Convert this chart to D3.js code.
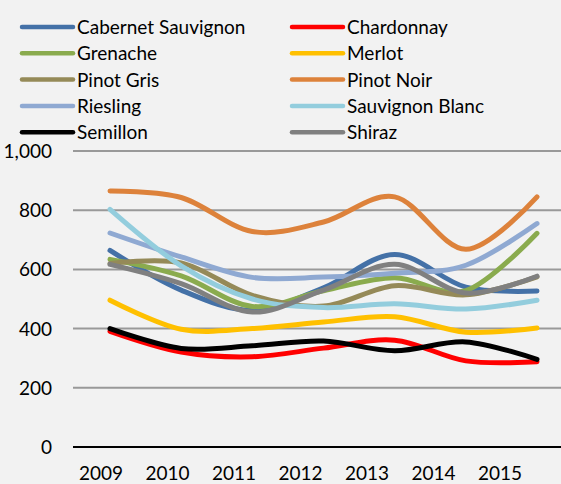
<!DOCTYPE html>
<html>
<head>
<meta charset="utf-8">
<script src="https://cdnjs.cloudflare.com/ajax/libs/d3/7.8.5/d3.min.js"></script>
<style>
  body { margin: 0; background: #f2f2f2; }
  svg { display: block; font-family: Lato, "Open Sans", sans-serif; }
</style>
</head>
<body>
<script>
//Width and height
var w = 561;
var h = 484;

//Chart data
var years = ["2009", "2010", "2011", "2012", "2013", "2014", "2015"];
var varieties = ["Cabernet Sauvignon", "Chardonnay", "Grenache", "Merlot", "Pinot Gris",
                 "Pinot Noir", "Riesling", "Sauvignon Blanc", "Semillon", "Shiraz"];
var colors = ["#4471a7", "#ff0000", "#8aab4e", "#ffc000", "#958a58",
              "#dd823b", "#8fa9d2", "#93cddd", "#000000", "#808080"];

var cabernet   = [664, 530, 462, 538, 650, 540, 527];
var chardonnay = [391, 321, 305, 334, 361, 291, 288];
var grenache   = [634, 578, 475, 528, 572, 528, 722];
var merlot     = [496, 398, 400, 422, 440, 388, 402];
var pinotGris  = [620, 622, 512, 476, 545, 514, 575];
var pinotNoir  = [865, 843, 728, 760, 845, 668, 845];
var riesling   = [723, 642, 573, 574, 587, 614, 755];
var sauvBlanc  = [803, 612, 500, 471, 484, 466, 496];
var semillon   = [400, 333, 342, 358, 325, 355, 296];
var shiraz     = [617, 552, 456, 530, 617, 520, 577];

var series = [cabernet, chardonnay, grenache, merlot, pinotGris,
              pinotNoir, riesling, sauvBlanc, semillon, shiraz];

var yTicks = [0, 200, 400, 600, 800, 1000];

//Scales
var x = d3.scalePoint().domain(years).range([110, 537]);
var xLabel = d3.scalePoint().domain(years).range([101, 500]);
var y = d3.scaleLinear().domain([0, 1000]).range([447, 151]);

var fmt = d3.format(",");

//Create SVG element
var svg = d3.select("body")
            .append("svg")
            .attr("width", w)
            .attr("height", h);

svg.append("rect").attr("width", w).attr("height", h).attr("fill", "#f2f2f2");

//Gridlines
svg.selectAll("line.grid")
   .data(yTicks)
   .enter()
   .append("line")
   .attr("class", "grid")
   .attr("x1", 73).attr("x2", w)
   .attr("y1", function(d) { return y(d); })
   .attr("y2", function(d) { return y(d); })
   .attr("stroke", function(d) { return d === 0 ? "#000" : "#999"; })
   .attr("stroke-width", 2);

//Y labels
svg.selectAll("text.ytick")
   .data(yTicks)
   .enter()
   .append("text")
   .attr("class", "ytick")
   .attr("x", 52)
   .attr("y", function(d) { return y(d) + 7; })
   .attr("text-anchor", "end")
   .attr("font-size", 19)
   .attr("fill", "#000")
   .text(function(d) { return fmt(d); });

//X labels
svg.selectAll("text.xtick")
   .data(years)
   .enter()
   .append("text")
   .attr("class", "xtick")
   .attr("x", function(d) { return xLabel(d); })
   .attr("y", 480)
   .attr("text-anchor", "middle")
   .attr("font-size", 19)
   .attr("fill", "#000")
   .text(function(d) { return d; });

//Lines
var line = d3.line()
             .x(function(d, i) { return x(years[i]); })
             .y(function(d) { return y(d); })
             .curve(d3.curveCatmullRom.alpha(0));

svg.selectAll("path.series")
   .data(series)
   .enter()
   .append("path")
   .attr("class", "series")
   .attr("d", line)
   .attr("fill", "none")
   .attr("stroke", function(d, i) { return colors[i]; })
   .attr("stroke-width", 5)
   .attr("stroke-linecap", "round")
   .attr("stroke-linejoin", "round");

//Legend
var legend = svg.selectAll("g.legend")
                .data(varieties)
                .enter()
                .append("g")
                .attr("class", "legend")
                .attr("transform", function(d, i) {
                    var col = i % 2, row = Math.floor(i / 2);
                    return "translate(" + (col ? 292 : 22) + "," + (27 + row * 26.3) + ")";
                });

legend.append("line")
      .attr("x1", 0).attr("x2", 51)
      .attr("stroke", function(d, i) { return colors[i]; })
      .attr("stroke-width", 4.5)
      .attr("stroke-linecap", "round");

legend.append("text")
      .attr("x", 55)
      .attr("y", 7)
      .attr("font-size", 19)
      .attr("fill", "#000")
      .text(function(d) { return d; });
</script>
</body>
</html>
